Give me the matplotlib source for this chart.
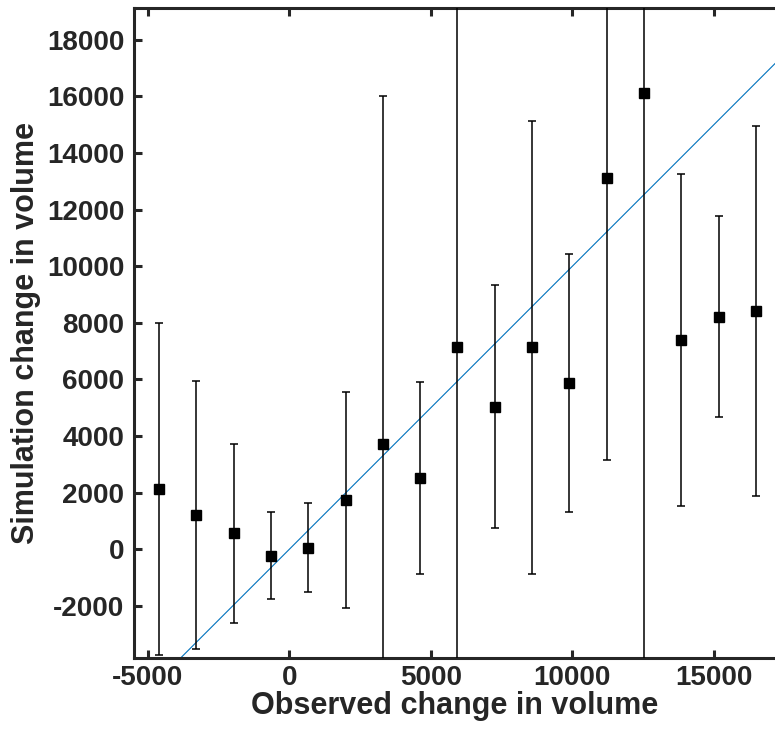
import numpy as np
import matplotlib
matplotlib.use("Agg")
import matplotlib.pyplot as plt

# observed change (bin centres) and simulated change with symmetric error
observed = [-4615, -3286, -1965, -647, 671, 1993, 3311, 4629, 5926,
            7258, 8576, 9894, 11216, 12544, 13852, 15173, 16491]
simulated = [2120, 1200, 565, -226, 57, 1742, 3710, 2509, 7160,
             5039, 7138, 5887, 13110, 16134, 7396, 8220, 8431]
sim_err = [5860, 4740, 3160, 1530, 1580, 3830, 12290, 3390, 13000,
           4300, 8010, 4560, 9950, 21000, 5870, 3560, 6540]

xticks = [-5000, 0, 5000, 10000, 15000]
yticks = [-2000, 0, 2000, 4000, 6000, 8000, 10000, 12000, 14000, 16000, 18000]

plt.rcParams['font.family'] = ['Liberation Sans', 'DejaVu Sans']
plt.rcParams['axes.unicode_minus'] = False
dark = '#262626'

fig = plt.figure(figsize=(7.75, 7.44), dpi=100)
ax = fig.add_axes([134 / 775, 86 / 744, 1 - 134 / 775, 650 / 744])

ax.errorbar(observed, simulated, yerr=sim_err, fmt='s', color='black',
            ecolor='black', elinewidth=1.1, capsize=3.2, capthick=1.1,
            markersize=6.5, zorder=3)

# 1:1 reference line
ref = np.array([-6000, 20000])
ax.plot(ref, ref, color='#0072BD', linewidth=0.8, zorder=2)

ax.set_xlim(-5488, 17163)
ax.set_ylim(-3841, 19127)
ax.set_xticks(xticks)
ax.set_yticks(yticks)

ax.tick_params(direction='in', length=6, width=2.2, colors=dark,
               labelsize=20, top=True, right=False)
ax.tick_params(axis='x', pad=5)
ax.tick_params(axis='y', pad=7)
for lab in ax.get_xticklabels() + ax.get_yticklabels():
    lab.set_fontweight('bold')
for side in ['left', 'bottom', 'top']:
    ax.spines[side].set_linewidth(2.2)
    ax.spines[side].set_color(dark)
ax.spines['right'].set_visible(False)

ax.set_xlabel('Observed change in volume', fontsize=22, fontweight='bold',
              color=dark, labelpad=0)
ax.set_ylabel('Simulation change in volume', fontsize=22, fontweight='bold',
              color=dark, labelpad=4)

plt.savefig('out.png', dpi=100)
plt.close()
